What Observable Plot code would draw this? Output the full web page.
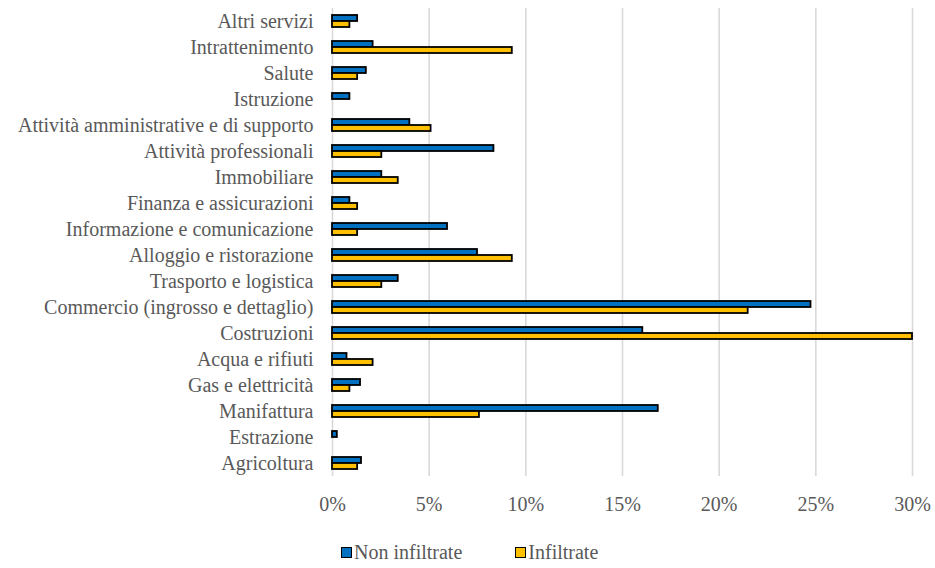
<!DOCTYPE html>
<html>
<head>
<meta charset="utf-8">
<script src="https://cdn.jsdelivr.net/npm/d3@7"></script>
<script src="https://cdn.jsdelivr.net/npm/@observablehq/plot@0.6"></script>
<style>
  html, body { margin: 0; padding: 0; background: #fff; }
  body { width: 935px; height: 568px; position: relative; overflow: hidden; font-family: "Liberation Serif", "DejaVu Serif", serif; color: #595959; }
  #legend { position: absolute; top: 541px; left: 341px; display: flex; align-items: center; font-size: 20px; white-space: nowrap; }
  .item { display: flex; align-items: center; }
  .sw { width: 9px; height: 9px; border: 1.5px solid #000; margin-right: 2px; }
  svg text { font-family: "Liberation Serif", "DejaVu Serif", serif !important; }
</style>
</head>
<body>
<div id="chart"></div>
<div id="legend"></div>
<script>
const categories = [
  "Altri servizi",
  "Intrattenimento",
  "Salute",
  "Istruzione",
  "Attività amministrative e di supporto",
  "Attività professionali",
  "Immobiliare",
  "Finanza e assicurazioni",
  "Informazione e comunicazione",
  "Alloggio e ristorazione",
  "Trasporto e logistica",
  "Commercio (ingrosso e dettaglio)",
  "Costruzioni",
  "Acqua e rifiuti",
  "Gas e elettricità",
  "Manifattura",
  "Estrazione",
  "Agricoltura"
];
const seriesNames = ["Non infiltrate", "Infiltrate"];
const nonInfiltrate = [1.3, 2.1, 1.75, 0.9, 4.0, 8.35, 2.55, 0.9, 5.95, 7.5, 3.4, 24.75, 16.05, 0.75, 1.45, 16.85, 0.25, 1.5];
const infiltrate    = [0.9, 9.3, 1.3, 0.0, 5.1, 2.55, 3.4, 1.3, 1.3, 9.3, 2.55, 21.5, 30.0, 2.1, 0.9, 7.6, 0.0, 1.3];
const xTicks = [0, 5, 10, 15, 20, 25, 30];
const colors = ["#0070C0", "#FFC000"];

const data = categories.flatMap((c, i) => [
  {cat: c, serie: seriesNames[0], v: nonInfiltrate[i]},
  {cat: c, serie: seriesNames[1], v: infiltrate[i]}
]);

const chart = Plot.plot({
  width: 935,
  height: 528,
  marginTop: 8,
  marginBottom: 52,
  marginLeft: 332,
  marginRight: 23,
  style: {fontFamily: "'Liberation Serif', 'DejaVu Serif', serif", fontSize: "20px", color: "#595959", background: "#fff", overflow: "visible"},
  x: {domain: [0, 30], ticks: xTicks, tickFormat: d => d + "%", tickSize: 0, tickPadding: 20, label: null},
  y: {domain: seriesNames, axis: null, paddingInner: 0, paddingOuter: 1},
  fy: {domain: categories, padding: 0, tickSize: 0, tickPadding: 19, label: null},
  color: {domain: seriesNames, range: colors},
  marks: [
    Plot.ruleX(xTicks, {stroke: "#d9d9d9", strokeWidth: 1.6}),
    Plot.barX(data.filter(d => d.v > 0), {fy: "cat", y: "serie", x: "v", fill: "serie", stroke: "#000", strokeWidth: 1.8})
  ]
});
document.getElementById("chart").appendChild(chart);

const legend = document.getElementById("legend");
seriesNames.forEach((s, i) => {
  const it = document.createElement("div");
  it.className = "item";
  if (i > 0) it.style.marginLeft = "53px";
  const sw = document.createElement("div");
  sw.className = "sw";
  sw.style.background = colors[i];
  const t = document.createElement("span");
  t.textContent = s;
  it.appendChild(sw);
  it.appendChild(t);
  legend.appendChild(it);
});
</script>
</body>
</html>
